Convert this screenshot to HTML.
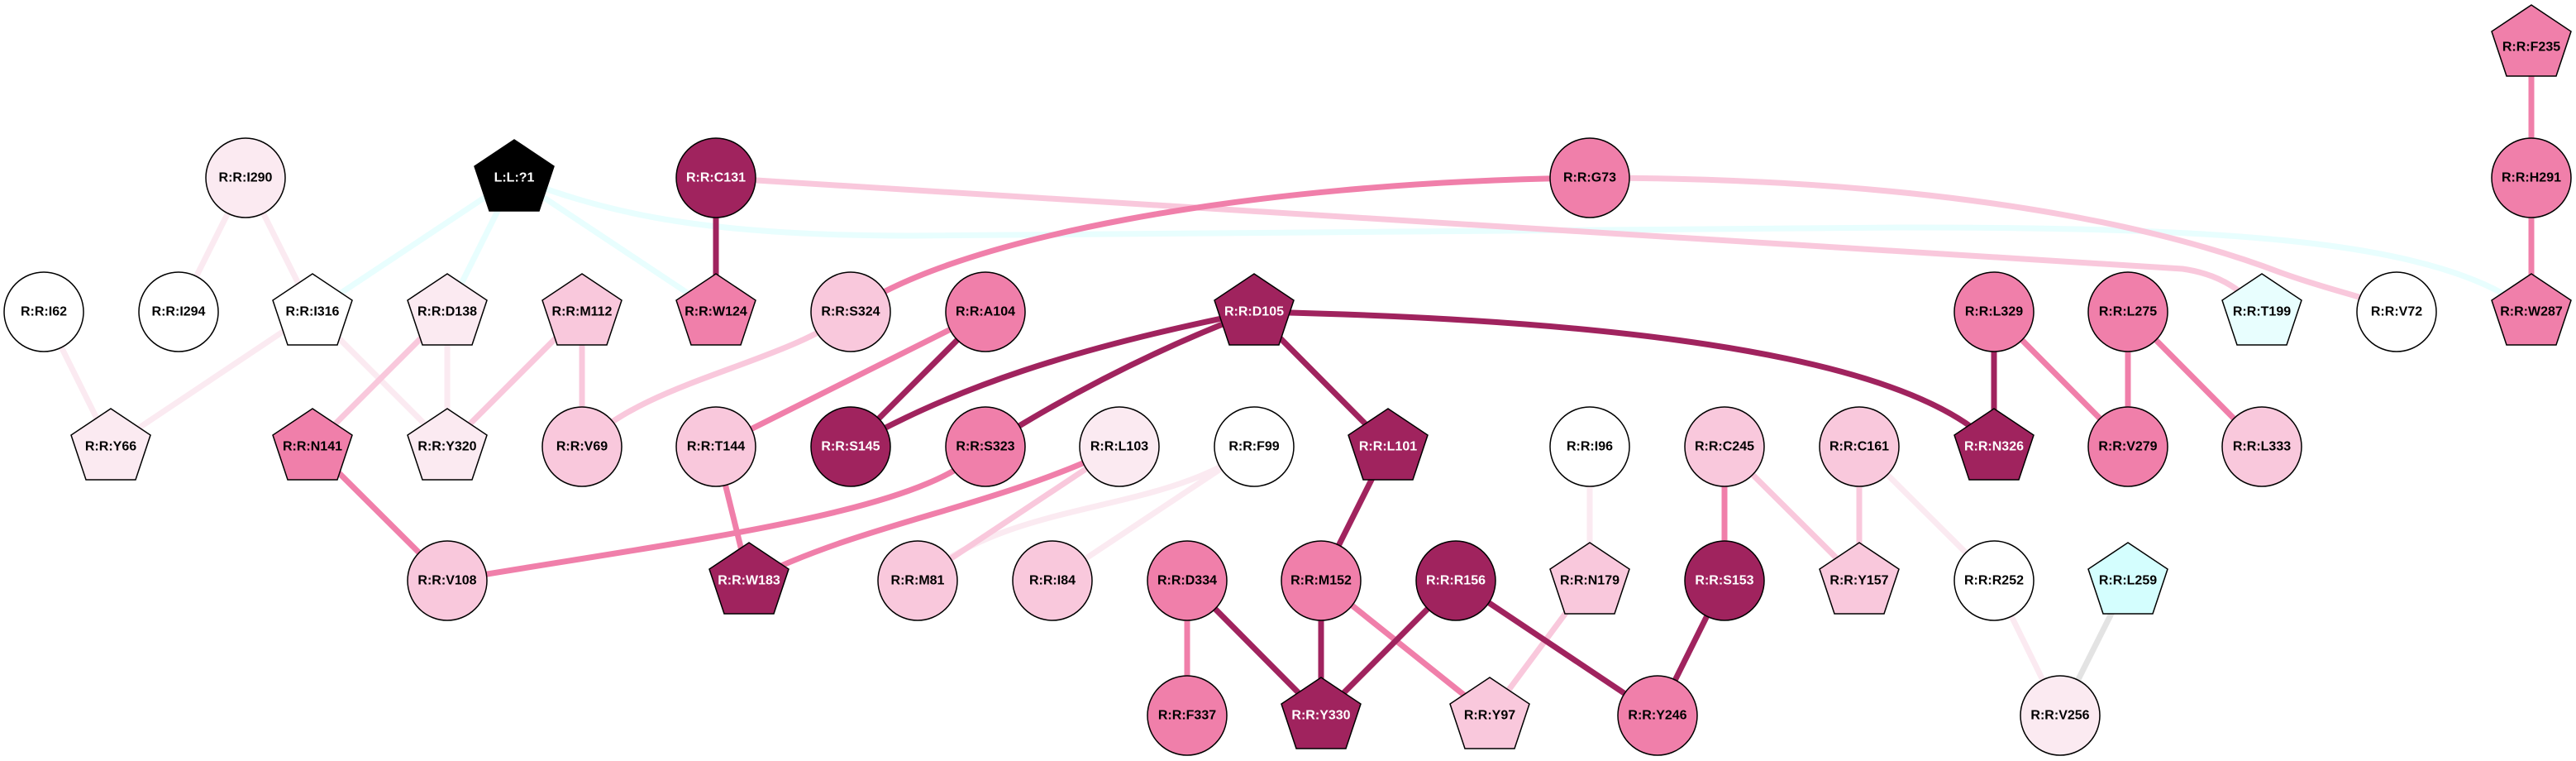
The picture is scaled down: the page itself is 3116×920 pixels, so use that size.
<!DOCTYPE html>
<html><head><meta charset="utf-8"><style>
html,body{margin:0;padding:0;background:#fff;}
svg{display:block;}
text{font-family:"Liberation Sans",Arial,sans-serif;font-weight:bold;font-size:16px;text-anchor:middle;dominant-baseline:central;}
</style></head><body>
<svg width="3116" height="920" viewBox="0 0 3116 920" xmlns="http://www.w3.org/2000/svg">
<defs>
<polygon id="pg" points="0,-46 48,-14 30,40 -30,40 -48,-14"/>
</defs>
<g fill="none" stroke-width="7" stroke-linecap="butt">
<!-- very light -->
<g stroke="#FBEAF1">
<line x1="297" y1="215" x2="216" y2="377"/>
<line x1="297" y1="215" x2="378" y2="377"/>
<line x1="53" y1="377" x2="134" y2="540"/>
<line x1="378" y1="377" x2="134" y2="540"/>
<line x1="378" y1="377" x2="541" y2="540"/>
<line x1="541" y1="377" x2="541" y2="540"/>
<line x1="1923" y1="540" x2="1923" y2="702"/>
<line x1="2249" y1="540" x2="2412" y2="702"/>
<line x1="2412" y1="702" x2="2492" y2="865"/>
<line x1="1517" y1="540" x2="1273" y2="702"/>
<path d="M1517,540 C1400,625 1230,600 1110,702"/>
</g>
<line x1="2574" y1="702" x2="2492" y2="865" stroke="#E3E3E3"/>
<!-- cyan -->
<g stroke="#E8FEFE">
<line x1="622" y1="215" x2="378" y2="377"/>
<line x1="622" y1="215" x2="541" y2="377"/>
<line x1="622" y1="215" x2="866" y2="377"/>
<path d="M622,215 C720,250 820,285 1100,285 L2300,275 C2700,275 2950,290 3062,377"/>
</g>
<!-- light pink -->
<g stroke="#F9C8DC">
<line x1="541" y1="377" x2="378" y2="540"/>
<line x1="704" y1="377" x2="541" y2="540"/>
<line x1="704" y1="377" x2="704" y2="540"/>
<line x1="1354" y1="540" x2="1110" y2="702"/>
<line x1="2086" y1="540" x2="2249" y2="702"/>
<line x1="2249" y1="540" x2="2249" y2="702"/>
<line x1="1923" y1="702" x2="1802" y2="865"/>
<path d="M1029,377 C950,440 780,460 704,540"/>
<path d="M866,215 L2640,325 C2690,332 2715,355 2736,377"/>
<path d="M1923,215 C2250,215 2550,250 2760,330 C2830,355 2870,360 2899,377"/>
</g>
<!-- medium -->
<g stroke="#F07FAA">
<line x1="1192" y1="377" x2="866" y2="540"/>
<line x1="378" y1="540" x2="541" y2="702"/>
<line x1="866" y1="540" x2="906" y2="702"/>
<line x1="2086" y1="540" x2="2086" y2="702"/>
<line x1="2412" y1="377" x2="2574" y2="540"/>
<line x1="2574" y1="377" x2="2574" y2="540"/>
<line x1="2574" y1="377" x2="2736" y2="540"/>
<line x1="3062" y1="52" x2="3062" y2="215"/>
<line x1="3062" y1="215" x2="3062" y2="377"/>
<line x1="1436" y1="702" x2="1436" y2="865"/>
<line x1="1598" y1="702" x2="1802" y2="865"/>
<path d="M1923,215 C1500,220 1150,290 1029,377"/>
<path d="M1192,540 C1120,620 850,650 541,702"/>
<path d="M1354,540 C1200,615 1050,630 906,702"/>
</g>
<!-- dark -->
<g stroke="#A0235E">
<line x1="866" y1="215" x2="866" y2="377"/>
<line x1="1192" y1="377" x2="1029" y2="540"/>
<line x1="1517" y1="377" x2="1679" y2="540"/>
<line x1="1679" y1="540" x2="1598" y2="702"/>
<line x1="2412" y1="377" x2="2412" y2="540"/>
<line x1="1436" y1="702" x2="1598" y2="865"/>
<line x1="1598" y1="702" x2="1598" y2="865"/>
<line x1="1761" y1="702" x2="1598" y2="865"/>
<line x1="1761" y1="702" x2="2005" y2="865"/>
<line x1="2086" y1="702" x2="2005" y2="865"/>
<path d="M1517,377 C1300,420 1150,470 1029,540"/>
<path d="M1517,377 Q1350,440 1192,540"/>
<path d="M1517,377 C1900,385 2300,420 2412,540"/>
</g>
</g>
<g stroke="#000" stroke-width="1.5">
<!-- circles -->
<circle cx="53" cy="377" r="48" fill="#fff"/>
<circle cx="216" cy="377" r="48" fill="#fff"/>
<circle cx="297" cy="215" r="48" fill="#FBEAF1"/>
<circle cx="866" cy="215" r="48" fill="#A0235E"/>
<circle cx="1923" cy="215" r="48" fill="#F07FAA"/>
<circle cx="3062" cy="215" r="48" fill="#F07FAA"/>
<circle cx="1029" cy="377" r="48" fill="#F9C8DC"/>
<circle cx="1192" cy="377" r="48" fill="#F07FAA"/>
<circle cx="2412" cy="377" r="48" fill="#F07FAA"/>
<circle cx="2574" cy="377" r="48" fill="#F07FAA"/>
<circle cx="2899" cy="377" r="48" fill="#fff"/>
<circle cx="704" cy="540" r="48" fill="#F9C8DC"/>
<circle cx="866" cy="540" r="48" fill="#F9C8DC"/>
<circle cx="1029" cy="540" r="48" fill="#A0235E"/>
<circle cx="1192" cy="540" r="48" fill="#F07FAA"/>
<circle cx="1354" cy="540" r="48" fill="#FBEAF1"/>
<circle cx="1517" cy="540" r="48" fill="#fff"/>
<circle cx="1923" cy="540" r="48" fill="#fff"/>
<circle cx="2086" cy="540" r="48" fill="#F9C8DC"/>
<circle cx="2249" cy="540" r="48" fill="#F9C8DC"/>
<circle cx="2574" cy="540" r="48" fill="#F07FAA"/>
<circle cx="2736" cy="540" r="48" fill="#F9C8DC"/>
<circle cx="541" cy="702" r="48" fill="#F9C8DC"/>
<circle cx="1110" cy="702" r="48" fill="#F9C8DC"/>
<circle cx="1273" cy="702" r="48" fill="#F9C8DC"/>
<circle cx="1436" cy="702" r="48" fill="#F07FAA"/>
<circle cx="1598" cy="702" r="48" fill="#F07FAA"/>
<circle cx="1761" cy="702" r="48" fill="#A0235E"/>
<circle cx="2086" cy="702" r="48" fill="#A0235E"/>
<circle cx="2412" cy="702" r="48" fill="#fff"/>
<circle cx="1436" cy="865" r="48" fill="#F07FAA"/>
<circle cx="2005" cy="865" r="48" fill="#F07FAA"/>
<circle cx="2492" cy="865" r="48" fill="#FBEAF1"/>
<!-- pentagons -->
<use href="#pg" x="3062" y="52" fill="#F07FAA"/>
<use href="#pg" x="622" y="215" fill="#000"/>
<use href="#pg" x="378" y="377" fill="#fff"/>
<use href="#pg" x="541" y="377" fill="#FBEAF1"/>
<use href="#pg" x="704" y="377" fill="#F9C8DC"/>
<use href="#pg" x="866" y="377" fill="#F07FAA"/>
<use href="#pg" x="1517" y="377" fill="#A0235E"/>
<use href="#pg" x="2736" y="377" fill="#E8FEFE"/>
<use href="#pg" x="3062" y="377" fill="#F07FAA"/>
<use href="#pg" x="134" y="540" fill="#FBEAF1"/>
<use href="#pg" x="378" y="540" fill="#F07FAA"/>
<use href="#pg" x="541" y="540" fill="#FBEAF1"/>
<use href="#pg" x="1679" y="540" fill="#A0235E"/>
<use href="#pg" x="2412" y="540" fill="#A0235E"/>
<use href="#pg" x="906" y="702" fill="#A0235E"/>
<use href="#pg" x="1923" y="702" fill="#F9C8DC"/>
<use href="#pg" x="2249" y="702" fill="#F9C8DC"/>
<use href="#pg" x="2574" y="702" fill="#D4FEFE"/>
<use href="#pg" x="1598" y="865" fill="#A0235E"/>
<use href="#pg" x="1802" y="865" fill="#F9C8DC"/>
</g>
<g fill="#000">
<text x="3062" y="57">R:R:F235</text>
<text x="297" y="215">R:R:I290</text>
<text x="1923" y="215">R:R:G73</text>
<text x="3062" y="215">R:R:H291</text>
<text x="53" y="377">R:R:I62</text>
<text x="216" y="377">R:R:I294</text>
<text x="378" y="377">R:R:I316</text>
<text x="541" y="377">R:R:D138</text>
<text x="704" y="377">R:R:M112</text>
<text x="866" y="377">R:R:W124</text>
<text x="1029" y="377">R:R:S324</text>
<text x="1192" y="377">R:R:A104</text>
<text x="2412" y="377">R:R:L329</text>
<text x="2574" y="377">R:R:L275</text>
<text x="2736" y="377">R:R:T199</text>
<text x="2899" y="377">R:R:V72</text>
<text x="3062" y="377">R:R:W287</text>
<text x="134" y="540">R:R:Y66</text>
<text x="378" y="540">R:R:N141</text>
<text x="541" y="540">R:R:Y320</text>
<text x="704" y="540">R:R:V69</text>
<text x="866" y="540">R:R:T144</text>
<text x="1192" y="540">R:R:S323</text>
<text x="1354" y="540">R:R:L103</text>
<text x="1517" y="540">R:R:F99</text>
<text x="1923" y="540">R:R:I96</text>
<text x="2086" y="540">R:R:C245</text>
<text x="2249" y="540">R:R:C161</text>
<text x="2574" y="540">R:R:V279</text>
<text x="2736" y="540">R:R:L333</text>
<text x="541" y="702">R:R:V108</text>
<text x="1110" y="702">R:R:M81</text>
<text x="1273" y="702">R:R:I84</text>
<text x="1436" y="702">R:R:D334</text>
<text x="1598" y="702">R:R:M152</text>
<text x="1923" y="702">R:R:N179</text>
<text x="2249" y="702">R:R:Y157</text>
<text x="2412" y="702">R:R:R252</text>
<text x="2574" y="702">R:R:L259</text>
<text x="1436" y="865">R:R:F337</text>
<text x="1802" y="865">R:R:Y97</text>
<text x="2005" y="865">R:R:Y246</text>
<text x="2492" y="865">R:R:V256</text>
</g>
<g fill="#fff">
<text x="622" y="215">L:L:?1</text>
<text x="866" y="215">R:R:C131</text>
<text x="1517" y="377">R:R:D105</text>
<text x="1029" y="540">R:R:S145</text>
<text x="1679" y="540">R:R:L101</text>
<text x="2412" y="540">R:R:N326</text>
<text x="906" y="702">R:R:W183</text>
<text x="1761" y="702">R:R:R156</text>
<text x="2086" y="702">R:R:S153</text>
<text x="1598" y="865">R:R:Y330</text>
</g>
</svg>
</body></html>
